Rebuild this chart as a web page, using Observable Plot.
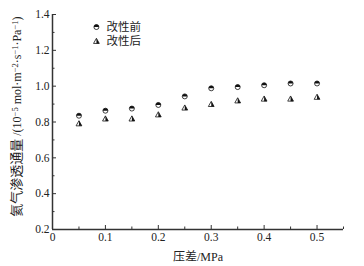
<!DOCTYPE html>
<html><head><meta charset="utf-8">
<script src="https://cdn.jsdelivr.net/npm/d3@7"></script>
<script src="https://cdn.jsdelivr.net/npm/@observablehq/plot@0.6"></script>
<style>
body{margin:0;background:#fff;}
#chart svg{font-family:"Liberation Serif","Noto Sans CJK SC",serif;}
</style>
</head><body><div id="chart"></div>
<script>
const pressure = [0.05,0.10,0.15,0.20,0.25,0.30,0.35,0.40,0.45,0.50];
const before = [0.835,0.863,0.875,0.895,0.943,0.988,0.995,1.005,1.015,1.015];
const after = [0.790,0.817,0.817,0.840,0.878,0.898,0.918,0.928,0.928,0.938];
const seriesNames = ["改性前","改性后"];
const xMajor = [0,0.1,0.2,0.3,0.4,0.5];
const xMinor = [0.05,0.15,0.25,0.35,0.45,0.55];
const yMajor = [0.2,0.4,0.6,0.8,1.0,1.2,1.4];
const yMinor = [0.3,0.5,0.7,0.9,1.1,1.3];
const xLabel = "压差/MPa";
const yLabel = "氦气渗透通量/(10⁻⁵ mol·m⁻²·s⁻¹·Pa⁻¹)";
// pieces of the y label: [text, kind] kind: c = CJK, l = latin, s = superscript
const yLabelParts = [["氦气渗透通量","c"],[" /(10","l"],["−5","s"],[" mol·m","l"],["−2","s"],["·s","l"],["−1","s"],["·Pa","l"],["−1","s"],[")","l"]];

const rows = pressure.map((p,i)=>({p, before:before[i], after:after[i]}));

const halfCircleTop = {draw(ctx,size){const r=Math.sqrt(size/Math.PI);ctx.moveTo(r,0);ctx.arc(0,0,r,0,Math.PI,true);ctx.closePath();}};
const fullCircle = {draw(ctx,size){const r=Math.sqrt(size/Math.PI);ctx.moveTo(r,0);ctx.arc(0,0,r,0,2*Math.PI);ctx.closePath();}};
const triFull = {draw(ctx,size){const s=Math.sqrt(size)*1.2;const h=s*0.9;ctx.moveTo(0,-h*0.6);ctx.lineTo(s/2,h*0.4);ctx.lineTo(-s/2,h*0.4);ctx.closePath();}};
const triRight = {draw(ctx,size){const s=Math.sqrt(size)*1.2;const h=s*0.9;ctx.moveTo(0,-h*0.6);ctx.lineTo(s/2,h*0.4);ctx.lineTo(0,h*0.4);ctx.closePath();}};

const legend = [{name:seriesNames[0], k:0, y:1.33},{name:seriesNames[1], k:1, y:1.25}];

const chart = Plot.plot({
  width:364, height:266,
  marginLeft:52, marginRight:21, marginTop:14, marginBottom:37,
  x:{domain:[0,0.55]},
  y:{domain:[0.2,1.4]},
  style:{fontFamily:'"Liberation Serif","Noto Sans CJK SC",serif', fontSize:"11.5px", color:"#222"},
  marks:[
    Plot.axisX(xMajor,{tickSize:-4, tickFormat:d=>d===0?"0":d3.format(".1f")(d), fontSize:11.5, tickPadding:7, label:null, stroke:"#333"}),
    Plot.axisX(xMinor,{tickSize:-2.5, text:null, label:null, stroke:"#333"}),
    Plot.axisY(yMajor,{tickSize:-4, tickFormat:d3.format(".1f"), fontSize:11.5, tickPadding:7, label:null, stroke:"#333"}),
    Plot.axisY(yMinor,{tickSize:-2.5, text:null, label:null, stroke:"#333"}),
    Plot.ruleX([0],{stroke:"#333", strokeWidth:1.5}),
    Plot.ruleY([0.2],{stroke:"#333", strokeWidth:1.5}),
    Plot.dot(rows,{x:"p",y:"before",symbol:()=>fullCircle,r:2.5,fill:"white",stroke:"#111",strokeWidth:0.8}),
    Plot.dot(rows,{x:"p",y:"before",symbol:()=>halfCircleTop,r:2.5,fill:"#111",stroke:"none"}),
    Plot.dot(rows,{x:"p",y:"after",symbol:()=>triFull,r:2.7,fill:"white",stroke:"#111",strokeWidth:0.8}),
    Plot.dot(rows,{x:"p",y:"after",symbol:()=>triRight,r:2.7,fill:"#111",stroke:"none"}),
    Plot.dot(legend.filter(d=>d.k===0),{x:()=>0.083,y:"y",symbol:()=>fullCircle,r:2.5,fill:"white",stroke:"#111",strokeWidth:0.8}),
    Plot.dot(legend.filter(d=>d.k===0),{x:()=>0.083,y:"y",symbol:()=>halfCircleTop,r:2.5,fill:"#111",stroke:"none"}),
    Plot.dot(legend.filter(d=>d.k===1),{x:()=>0.083,y:"y",symbol:()=>triFull,r:2.7,fill:"white",stroke:"#111",strokeWidth:0.8}),
    Plot.dot(legend.filter(d=>d.k===1),{x:()=>0.083,y:"y",symbol:()=>triRight,r:2.7,fill:"#111",stroke:"none"}),
    Plot.text(legend,{x:()=>0.102,y:"y",text:"name",textAnchor:"start",fontSize:11.5,fontFamily:'"Noto Sans CJK SC",serif',fill:"#222"}),
    Plot.text([xLabel],{x:()=>0.275,frameAnchor:"bottom",dy:31,text:d=>d,fontSize:12,fill:"#222"}),
    Plot.text([yLabel],{y:()=>0.83,frameAnchor:"left",textAnchor:"middle",dx:-35,rotate:-90,text:d=>d,fontSize:12,fill:"#222"})
  ]
});
// rebuild the y label with real superscripts
d3.select(chart).selectAll("text").filter(function(){return this.textContent===yLabel;}).each(function(){
  const t = d3.select(this);
  t.text(null);
  let prevSup=false;
  yLabelParts.forEach(([s,k])=>{
    const sp = t.append("tspan").text(s);
    if(k==="c"){sp.attr("font-family",'"Noto Sans CJK SC",serif').attr("font-size",13);}
    else if(k==="s"){sp.attr("font-size",8.5).attr("dy","-0.45em");prevSup=true;return;}
    else {sp.attr("font-size",12);}
    if(prevSup){sp.attr("dy","0.32em");prevSup=false;}
  });
});
document.getElementById("chart").appendChild(chart);
</script>
</body></html>
